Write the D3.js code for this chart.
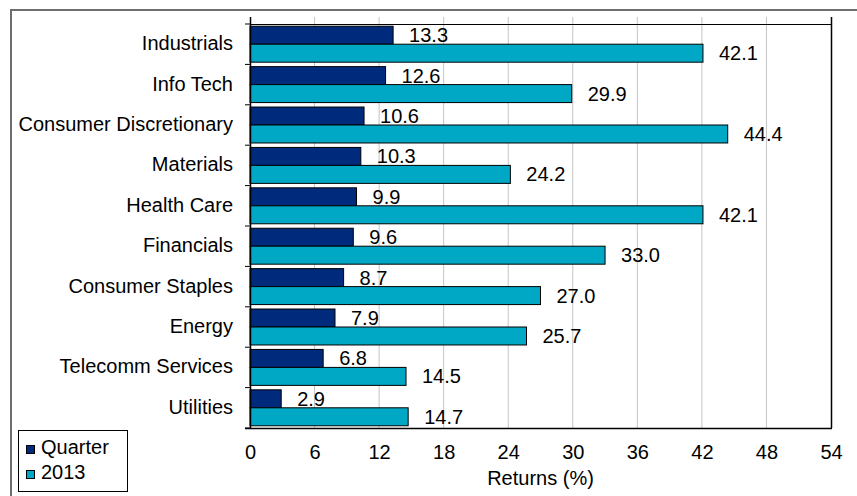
<!DOCTYPE html>
<html>
<head>
<meta charset="utf-8">
<script src="https://cdn.jsdelivr.net/npm/d3@7"></script>
<style>
  html, body { margin: 0; padding: 0; background: #fff; }
  svg { display: block; font-family: "Liberation Sans", Arial, sans-serif; }
</style>
</head>
<body>
<svg id="chart" width="857" height="496"></svg>
<script>
// Sector returns: latest quarter vs. full year 2013
const sectors = ["Industrials", "Info Tech", "Consumer Discretionary", "Materials", "Health Care",
                 "Financials", "Consumer Staples", "Energy", "Telecomm Services", "Utilities"];
const quarterReturns = [13.3, 12.6, 10.6, 10.3, 9.9, 9.6, 8.7, 7.9, 6.8, 2.9];
const yearReturns = [42.1, 29.9, 44.4, 24.2, 42.1, 33.0, 27.0, 25.7, 14.5, 14.7];
const seriesNames = ["Quarter", "2013"];
const xTicks = [0, 6, 12, 18, 24, 30, 36, 42, 48, 54];
const axisTitle = "Returns (%)";

const colors = { "Quarter": "#002a7c", "2013": "#00a8c6" };
const fontSize = 20;

const svg = d3.select("#chart");
const plot = { left: 250, right: 831, top: 24, bottom: 428, gridTop: 17 };

// Outer frame
svg.append("path")
  .attr("d", "M11,496 L11,10 L857,10")
  .attr("fill", "none").attr("stroke", "#6e6e6e").attr("stroke-width", 2);

const x = d3.scaleLinear().domain([0, 54]).range([plot.left, plot.right]);
const y = d3.scaleBand().domain(sectors).range([plot.top, plot.bottom])
  .paddingInner(0.11).paddingOuter(0.055);
const ySub = d3.scaleBand().domain(seriesNames).range([0, y.bandwidth()]);

// Vertical gridlines
svg.append("g").selectAll("line")
  .data(xTicks.filter(t => t > 0 && t < 54))
  .join("line")
  .attr("x1", d => x(d)).attr("x2", d => x(d))
  .attr("y1", plot.gridTop).attr("y2", plot.bottom)
  .attr("stroke", "#c4c4c4").attr("stroke-width", 1);

// Plot frame: top and right edges
svg.append("line").attr("x1", plot.left).attr("x2", plot.right)
  .attr("y1", plot.top + 0.5).attr("y2", plot.top + 0.5)
  .attr("stroke", "#000").attr("stroke-width", 1.2);
svg.append("line").attr("x1", plot.right + 0.5).attr("x2", plot.right + 0.5)
  .attr("y1", plot.gridTop).attr("y2", plot.bottom)
  .attr("stroke", "#000").attr("stroke-width", 1.5);

// Bars
const rows = sectors.map((s, i) => ({ sector: s, values: [
  { series: "Quarter", value: quarterReturns[i] },
  { series: "2013", value: yearReturns[i] }
]}));

const groups = svg.append("g").selectAll("g")
  .data(rows).join("g")
  .attr("transform", d => `translate(0,${y(d.sector)})`);

groups.selectAll("rect")
  .data(d => d.values).join("rect")
  .attr("x", x(0))
  .attr("y", d => ySub(d.series))
  .attr("width", d => x(d.value) - x(0))
  .attr("height", ySub.bandwidth())
  .attr("fill", d => colors[d.series])
  .attr("stroke", "#000").attr("stroke-width", 1);

// Value labels
groups.selectAll("text")
  .data(d => d.values).join("text")
  .attr("x", d => x(d.value) + 16)
  .attr("y", d => ySub(d.series) + ySub.bandwidth() / 2 + 7)
  .attr("font-size", fontSize).attr("fill", "#000")
  .text(d => d.value.toFixed(1));

// Category axis
const yAxisG = svg.append("g");
yAxisG.append("line")
  .attr("x1", plot.left + 0.5).attr("x2", plot.left + 0.5)
  .attr("y1", plot.gridTop).attr("y2", plot.bottom)
  .attr("stroke", "#000").attr("stroke-width", 1.5);
yAxisG.selectAll("line.tick")
  .data(d3.range(sectors.length + 1))
  .join("line").attr("class", "tick")
  .attr("x1", plot.left - 5).attr("x2", plot.left)
  .attr("y1", i => plot.top + i * (plot.bottom - plot.top) / sectors.length)
  .attr("y2", i => plot.top + i * (plot.bottom - plot.top) / sectors.length)
  .attr("stroke", "#000").attr("stroke-width", 1);
yAxisG.selectAll("text")
  .data(sectors).join("text")
  .attr("x", 233)
  .attr("y", d => y(d) + y.bandwidth() / 2 + 6)
  .attr("text-anchor", "end")
  .attr("font-size", fontSize).attr("fill", "#000")
  .text(d => d);

// Value axis
const xAxis = d3.axisBottom(x).tickValues(xTicks).tickSize(0).tickPadding(0)
  .tickFormat(d3.format("d"));
const xAxisG = svg.append("g").attr("transform", `translate(0,${plot.bottom})`).call(xAxis);
xAxisG.select(".domain").remove();
xAxisG.selectAll("text")
  .attr("font-size", fontSize).attr("font-family", "Liberation Sans, Arial, sans-serif")
  .attr("fill", "#000").attr("dy", null).attr("y", 31);
svg.append("line")
  .attr("x1", plot.left - 5).attr("x2", plot.right + 1)
  .attr("y1", plot.bottom + 0.5).attr("y2", plot.bottom + 0.5)
  .attr("stroke", "#000").attr("stroke-width", 1.5);

svg.append("text")
  .attr("x", (plot.left + plot.right) / 2).attr("y", 485)
  .attr("text-anchor", "middle")
  .attr("font-size", fontSize).attr("fill", "#000")
  .text(axisTitle);

// Legend
const legend = svg.append("g");
legend.append("rect")
  .attr("x", 18.5).attr("y", 430.5).attr("width", 109).attr("height", 61)
  .attr("fill", "#fff").attr("stroke", "#000").attr("stroke-width", 1);
const legendItems = legend.selectAll("g.item")
  .data(seriesNames).join("g").attr("class", "item")
  .attr("transform", (d, i) => `translate(0,${i * 25})`);
legendItems.append("rect")
  .attr("x", 26.5).attr("y", 445.5).attr("width", 8).attr("height", 8)
  .attr("fill", d => colors[d]).attr("stroke", "#000").attr("stroke-width", 1);
legendItems.append("text")
  .attr("x", 41).attr("y", 454)
  .attr("font-size", fontSize).attr("fill", "#000")
  .text(d => d);
</script>
</body>
</html>
